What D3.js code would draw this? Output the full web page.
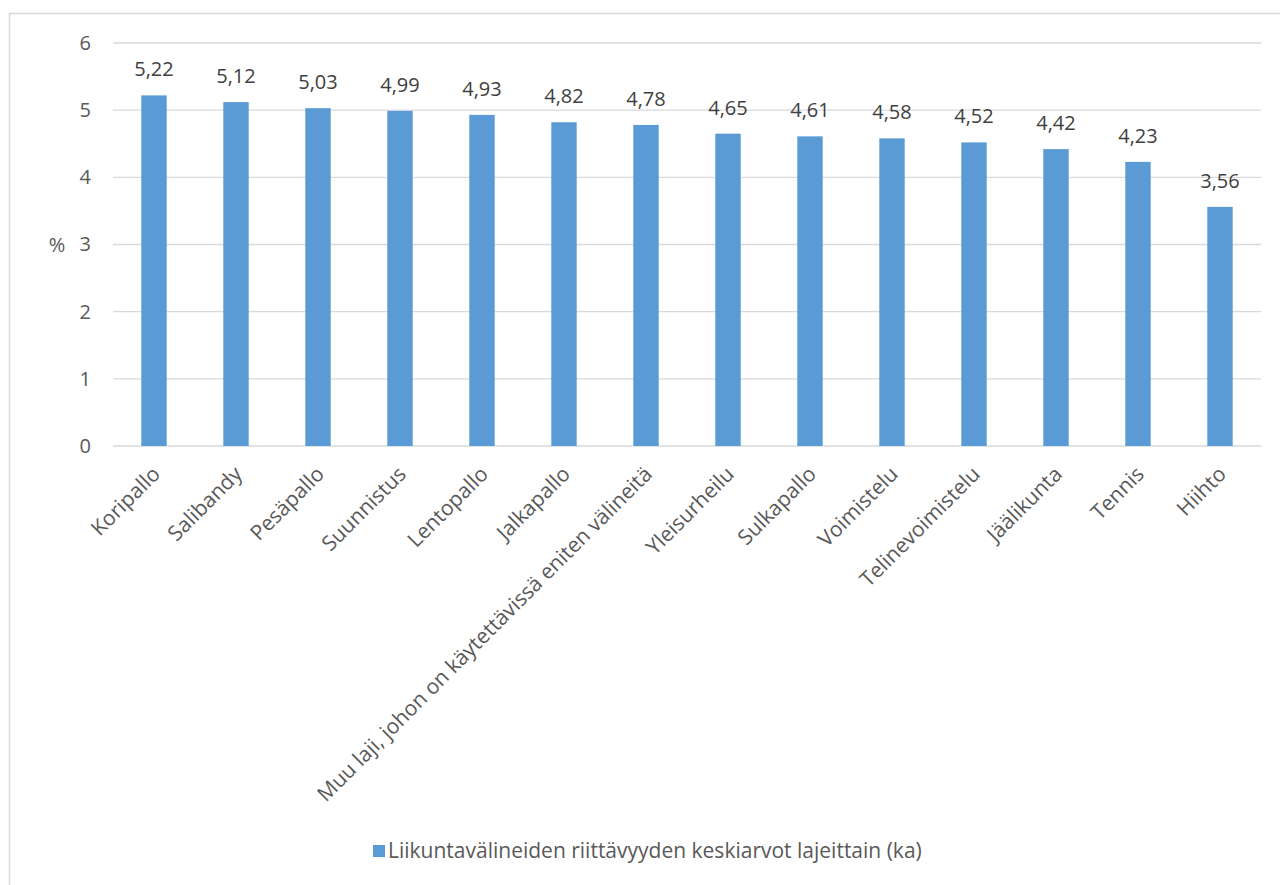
<!DOCTYPE html>
<html>
<head>
<meta charset="utf-8">
<script src="https://cdn.jsdelivr.net/npm/d3@7"></script>
<style>
  html, body { margin: 0; padding: 0; background: #fff; }
  svg { display: block; font-family: "Open Sans", "Noto Sans", sans-serif; }
</style>
</head>
<body>
<svg id="chart" width="1280" height="885"></svg>
<script>
// Lajit ja keskiarvot
const categories = [
  "Koripallo", "Salibandy", "Pesäpallo", "Suunnistus", "Lentopallo", "Jalkapallo",
  "Muu laji, johon on käytettävissä eniten välineitä", "Yleisurheilu", "Sulkapallo",
  "Voimistelu", "Telinevoimistelu", "Jäälikunta", "Tennis", "Hiihto"
];
const values = [5.22, 5.12, 5.03, 4.99, 4.93, 4.82, 4.78, 4.65, 4.61, 4.58, 4.52, 4.42, 4.23, 3.56];
const yTicks = [0, 1, 2, 3, 4, 5, 6];
const seriesName = "Liikuntavälineiden riittävyyden keskiarvot lajeittain (ka)";
const yAxisTitle = "%";

const svg = d3.select("#chart");
const barColor = "#5b9bd5";
const valueFont = 20;
const catFont = 21;

// Ulkokehys
svg.append("rect")
  .attr("x", 9.5).attr("y", 13.5)
  .attr("width", 1300).attr("height", 900)
  .attr("fill", "none").attr("stroke", "#d9d9d9").attr("stroke-width", 1.5);

const plot = { left: 113, right: 1261, top: 43, bottom: 446 };

const x = d3.scaleBand()
  .domain(categories)
  .range([plot.left, plot.right])
  .paddingInner(0.69).paddingOuter(0.345);

const y = d3.scaleLinear().domain([0, 6]).range([plot.bottom, plot.top]);

// Vaakaviivat
svg.append("g")
  .selectAll("line")
  .data(yTicks)
  .join("line")
  .attr("x1", plot.left).attr("x2", plot.right)
  .attr("y1", d => y(d)).attr("y2", d => y(d))
  .attr("stroke", "#d9d9d9").attr("stroke-width", 1.3);

// Y-akselin luvut
const yAxis = d3.axisLeft(y).tickValues(yTicks).tickSize(0).tickPadding(0)
  .tickFormat(d3.format("d"));
const yg = svg.append("g").attr("transform", `translate(${plot.left - 22},0)`).call(yAxis);
yg.select(".domain").remove();
yg.selectAll("text")
  .attr("fill", "#595959").attr("font-size", valueFont)
  .attr("font-family", "'Open Sans', sans-serif");

svg.append("text")
  .attr("x", 57).attr("y", y(3))
  .attr("dy", "0.35em")
  .attr("text-anchor", "middle")
  .attr("fill", "#595959").attr("font-size", valueFont)
  .text(yAxisTitle);

// Pylväät
svg.append("g")
  .selectAll("rect")
  .data(values)
  .join("rect")
  .attr("x", (d, i) => x(categories[i]))
  .attr("width", x.bandwidth())
  .attr("y", d => y(d))
  .attr("height", d => y(0) - y(d))
  .attr("fill", barColor);

// Arvotunnisteet
const fmt = d => d.toFixed(2).replace(".", ",");
svg.append("g")
  .selectAll("text")
  .data(values)
  .join("text")
  .attr("x", (d, i) => x(categories[i]) + x.bandwidth() / 2)
  .attr("y", d => y(d) - 19)
  .attr("text-anchor", "middle")
  .attr("fill", "#404040").attr("font-size", valueFont)
  .text(fmt);

// Luokkien nimet vinossa
svg.append("g")
  .selectAll("text")
  .data(categories)
  .join("text")
  .attr("transform", d => `translate(${x(d) + x.bandwidth() / 2 - 3},${plot.bottom + 19}) rotate(-45)`)
  .attr("text-anchor", "end")
  .attr("dy", "0.7em")
  .attr("fill", "#595959").attr("font-size", catFont)
  .text(d => d);

// Selite
const legend = svg.append("g").attr("transform", "translate(373,845)");
legend.append("rect").attr("x", 0).attr("y", 0).attr("width", 12).attr("height", 12).attr("fill", barColor);
legend.append("text")
  .attr("x", 15).attr("y", 6).attr("dy", "0.35em")
  .attr("fill", "#595959").attr("font-size", catFont)
  .text(seriesName);
</script>
</body>
</html>
